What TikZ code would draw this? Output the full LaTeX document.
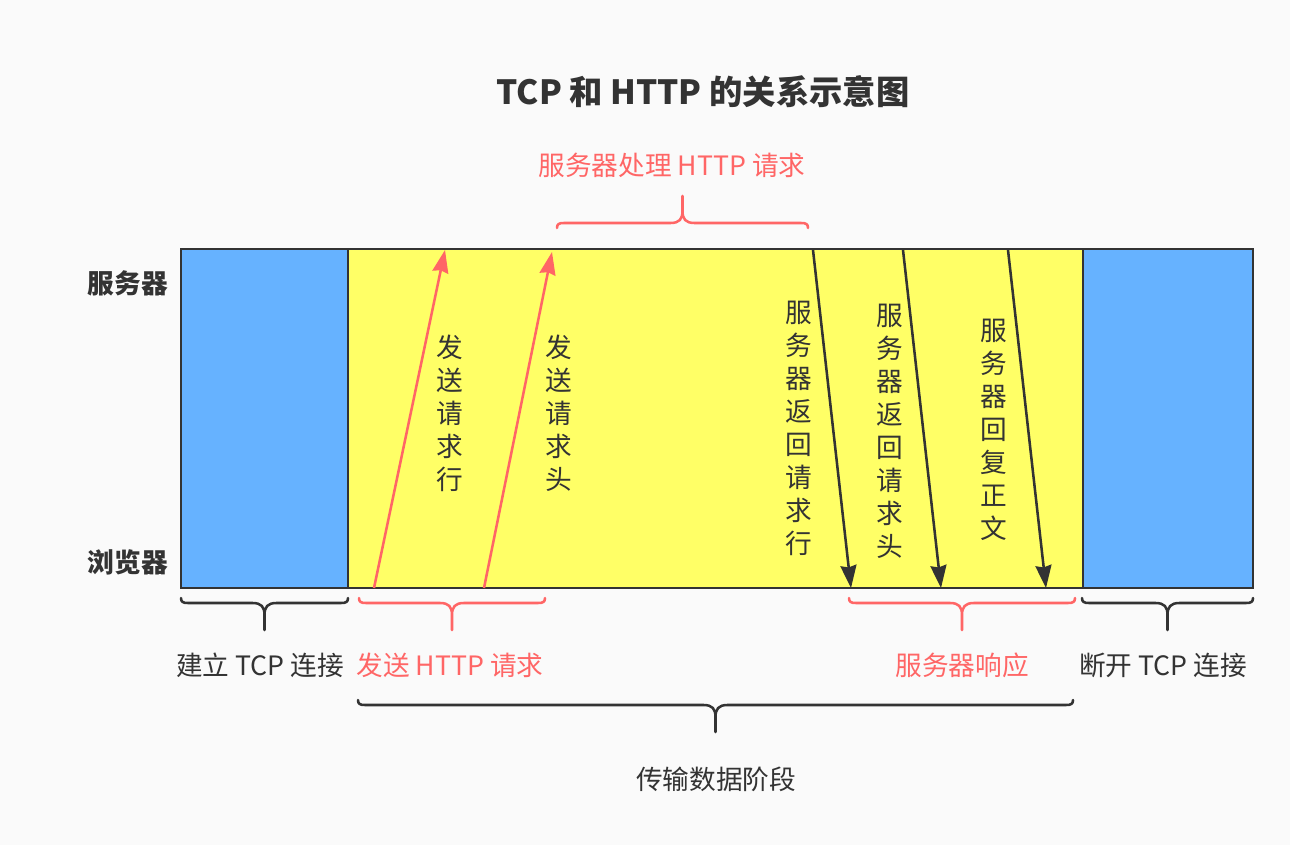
\documentclass[tikz,border=0pt]{standalone}
\usepackage{fontspec}
\setmainfont{Noto Sans CJK SC}
\usepackage{tikz}
\usetikzlibrary{arrows.meta, positioning}

\definecolor{boxblue}{HTML}{66B2FF}
\definecolor{boxyellow}{HTML}{FFFF66}
\definecolor{linered}{HTML}{FF6666}
\definecolor{inkgray}{HTML}{333333}
\definecolor{paper}{HTML}{FAFAFA}

% curly brace, tip pointing down, #1 = width
\tikzset{
  pics/hbrace/.style={code={
    \pgfmathsetmacro\brw{#1}
    \pgfmathsetmacro\brm{#1/2}
    \draw (0,0) .. controls (0,4) and (2,5) .. (7,5) -- (\brm-12,5)
          .. controls (\brm-3,5) and (\brm,9) .. (\brm,17) -- (\brm,32)
          (\brm,17) .. controls (\brm,9) and (\brm+3,5) .. (\brm+12,5)
          -- (\brw-7,5) .. controls (\brw-2,5) and (\brw,4) .. (\brw,0);
  }}
}

\begin{document}
\begin{tikzpicture}[
  x=0.75pt, y=-0.75pt,
  box/.style={rectangle, draw=inkgray, line width=2.2pt, inner sep=0pt,
             outer sep=0pt, minimum height=254.25pt},
  tcpbox/.style={box, fill=boxblue, minimum width=125.25pt},
  databox/.style={box, fill=boxyellow, minimum width=551.25pt},
  caption/.style={font=\fontsize{20}{24}\selectfont, text=inkgray, inner sep=0pt},
  redcaption/.style={caption, text=linered},
  vcaption/.style={caption, align=center, font=\fontsize{20}{24.75}\selectfont},
  rolecaption/.style={caption, font=\fontsize{20}{24}\selectfont\bfseries, anchor=east},
  reqarrow/.style={-{Stealth[length=17pt, width=12pt, inset=1.5pt]}, line width=1.9pt, draw=linered},
  resparrow/.style={reqarrow, draw=inkgray},
  darkbrace/.style={color=inkgray, line width=1.9pt, line cap=round},
  redbrace/.style={darkbrace, color=linered}
]

\fill[paper] (0,0) rectangle (1290,845);

\node[font=\fontsize{25}{30}\selectfont\bfseries, text=inkgray] (title) at (703,92) {TCP 和 HTTP 的关系示意图};

\node[redcaption] (handle) at (672,165) {服务器处理 HTTP 请求};
\pic[redbrace, yscale=-1] at (557,228) {hbrace=251};

\node[tcpbox, anchor=north west] (connect) at (181,249) {};
\node[databox, right=0pt of connect] (transfer) {};
\node[tcpbox, minimum width=127.5pt, right=0pt of transfer] (close) {};

\node[rolecaption] (server) at (168,283) {服务器};
\node[rolecaption] (browser) at (168,562) {浏览器};

% request line / header
\coordinate (rowsend) at (374,588);
\coordinate (rowrecv) at (445,250);
\coordinate (headsend) at (484,588);
\coordinate (headrecv) at (552,252);
\draw[reqarrow] (rowsend) -- (rowrecv);
\draw[reqarrow] (headsend) -- (headrecv);
\node[vcaption] (sendrow) at (450,413) {发\\送\\请\\求\\行};
\node[vcaption] (sendhead) at (559,413) {发\\送\\请\\求\\头};

% response
\coordinate (rowback) at (813,250);
\coordinate (rowget) at (851,588);
\coordinate (headback) at (903,250);
\coordinate (headget) at (941,588);
\coordinate (bodyback) at (1008,250);
\coordinate (bodyget) at (1046,588);
\draw[resparrow] (rowback) -- (rowget);
\draw[resparrow] (headback) -- (headget);
\draw[resparrow] (bodyback) -- (bodyget);
\node[vcaption] (backrow) at (799,428) {服\\务\\器\\返\\回\\请\\求\\行};
\node[vcaption] (backhead) at (890,431) {服\\务\\器\\返\\回\\请\\求\\头};
\node[vcaption] (backbody) at (994,430) {服\\务\\器\\回\\复\\正\\文};

% phases
\pic[darkbrace] at (181,598) {hbrace=167};
\pic[redbrace] at (359,598) {hbrace=186};
\pic[redbrace] at (849,598) {hbrace=226};
\pic[darkbrace] at (1082,598) {hbrace=171};
\pic[darkbrace] at (358,700) {hbrace=715};

\node[caption] (open) at (260,665) {建立 TCP 连接};
\node[redcaption] (request) at (450,665) {发送 HTTP 请求};
\node[redcaption] (response) at (962,665) {服务器响应};
\node[caption] (shut) at (1163,665) {断开 TCP 连接};
\node[caption] (phase) at (716,779) {传输数据阶段};

\end{tikzpicture}
\end{document}
